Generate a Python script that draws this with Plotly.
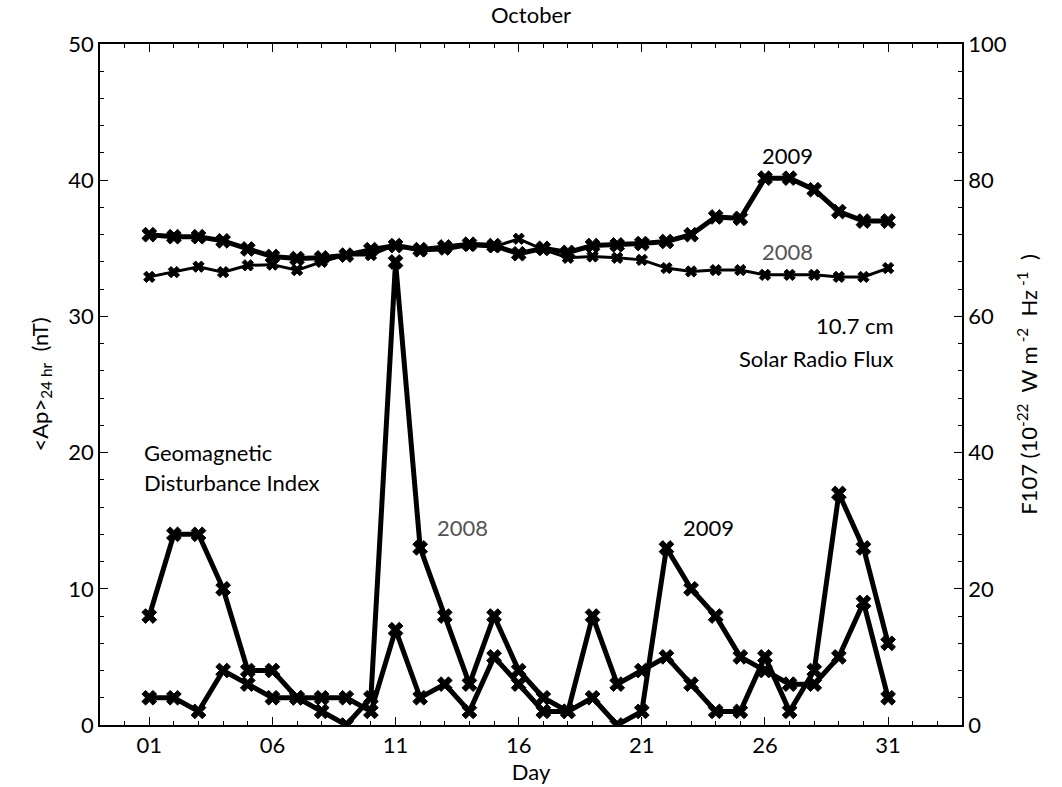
import plotly.graph_objects as go

# Day of month (October)
days = list(range(1, 32))

# Daily geomagnetic Ap index, 24-hour mean (nT)
ap_2008 = [8, 14, 14, 10, 4, 4, 2, 1, 0, 2, 34, 13, 8, 3, 8, 4, 2, 1, 8, 3,
           4, 5, 3, 1, 1, 5, 1, 4, 17, 13, 6]
ap_2009 = [2, 2, 1, 4, 3, 2, 2, 2, 2, 1, 7, 2, 3, 1, 5, 3, 1, 1, 2, 0,
           1, 13, 10, 8, 5, 4, 3, 3, 5, 9, 2]

# F10.7 solar radio flux (10^-22 W m^-2 Hz^-1)
f107_2008 = [65.8, 66.5, 67.3, 66.5, 67.5, 67.6, 66.8, 68.0, 69.0, 69.0, 70.5,
             69.6, 69.8, 70.4, 70.2, 71.4, 69.8, 68.6, 68.8, 68.6, 68.3, 67.1,
             66.6, 66.8, 66.8, 66.1, 66.1, 66.1, 65.8, 65.8, 67.1]
f107_2009 = [72.0, 71.7, 71.7, 71.1, 69.9, 68.8, 68.5, 68.6, 69.0, 69.8, 70.4,
             69.8, 70.2, 70.6, 70.4, 69.2, 70.0, 69.4, 70.4, 70.5, 70.7, 71.0,
             72.0, 74.6, 74.4, 80.3, 80.3, 78.6, 75.4, 74.0, 74.0]

day_ticks = [1, 6, 11, 16, 21, 26, 31]
day_labels = ["01", "06", "11", "16", "21", "26", "31"]

FONT = "Lato, 'Open Sans', sans-serif"
BLACK = "#000000"
GRAY = "#555555"
FS = 22

fig = go.Figure()

def add_series(y, axis, width, msize):
    fig.add_trace(go.Scatter(
        x=days, y=y, yaxis=axis, mode="lines+markers",
        line=dict(color=BLACK, width=width),
        marker=dict(symbol="x", size=msize, color=BLACK,
                    line=dict(color=BLACK, width=1)),
        showlegend=False, hoverinfo="skip"))

add_series(f107_2008, "y2", 3, 10)
add_series(f107_2009, "y2", 5, 13)
add_series(ap_2008, "y", 5, 13)
add_series(ap_2009, "y", 5, 13)

axis_common = dict(
    showline=True, linecolor=BLACK, linewidth=1.5,
    ticks="inside", tickcolor=BLACK, ticklen=8, tickwidth=1.2,
    showgrid=False, zeroline=False,
    tickfont=dict(family=FONT, size=FS, color=BLACK),
)

fig.update_layout(
    width=1062, height=787,
    margin=dict(l=100, r=100, t=44, b=62),
    paper_bgcolor="white", plot_bgcolor="white",
    font=dict(family=FONT, size=FS, color=BLACK),
    title=dict(text="October", x=0.5, xanchor="center", y=0.99, yanchor="top",
               font=dict(family=FONT, size=FS, color=BLACK)),
    xaxis=dict(
        range=[-1, 34], tickvals=day_ticks, ticktext=day_labels,
        mirror="ticks",
        minor=dict(dtick=1, tick0=0, ticks="inside", ticklen=4,
                   tickcolor=BLACK, tickwidth=1),
        title=dict(text="Day", standoff=2,
                   font=dict(family=FONT, size=FS, color=BLACK)),
        **axis_common),
    yaxis=dict(
        range=[0, 50], dtick=10, tick0=0,
        minor=dict(dtick=2, ticks="inside", ticklen=4,
                   tickcolor=BLACK, tickwidth=1),
        title=dict(text="&lt;Ap&gt;<sub>24 hr</sub>  (nT)", standoff=14,
                   font=dict(family=FONT, size=FS, color=BLACK)),
        **axis_common),
    yaxis2=dict(
        range=[0, 100], dtick=20, tick0=0, overlaying="y", side="right",
        minor=dict(dtick=4, ticks="inside", ticklen=4,
                   tickcolor=BLACK, tickwidth=1),
        title=dict(text="F107 (10<sup>-22</sup>  W m<sup> -2</sup>  Hz<sup> -1</sup>  )",
                   standoff=16, font=dict(family=FONT, size=FS, color=BLACK)),
        **axis_common),
)

def note(text, x, y, yref="y", color=BLACK, xanchor="center"):
    fig.add_annotation(text=text, x=x, y=y, xref="x", yref=yref,
                       showarrow=False, xanchor=xanchor, yanchor="middle",
                       font=dict(family=FONT, size=FS, color=color))

note("2009", 26.9, 83.6, yref="y2")
note("2008", 26.9, 69.5, yref="y2", color=GRAY)
note("10.7 cm", 31.3, 29.3, xanchor="right")
note("Solar Radio Flux", 31.3, 26.9, xanchor="right")
note("Geomagnetic", 0.7, 20.0, xanchor="left")
note("Disturbance Index", 0.7, 17.8, xanchor="left")
note("2008", 13.7, 14.5, color=GRAY)
note("2009", 23.7, 14.5)

fig.write_html("out.html")
